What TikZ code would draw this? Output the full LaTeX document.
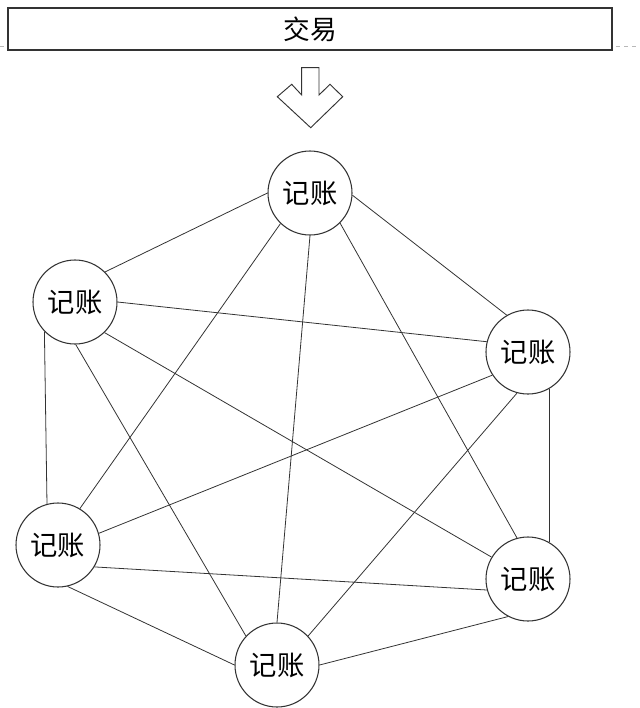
\documentclass[tikz,border=0pt]{standalone}
\usepackage{fontspec}
\newfontfamily\cjk{Noto Sans CJK SC}
\definecolor{inkgray}{rgb}{0.2,0.2,0.2}
\definecolor{guidegray}{rgb}{0.72,0.72,0.72}
\begin{document}
\begin{tikzpicture}[x=.75pt,y=-.75pt,
  ledger/.style={circle,draw=inkgray,line width=0.8pt,fill=white,minimum size=63pt,inner sep=0pt,font=\cjk\fontsize{20.5}{22}\selectfont},
  link/.style={draw=inkgray,line width=0.6pt}]
\path[use as bounding box] (0,0) rectangle (640,708);
% guide line behind the banner
\draw[guidegray,line width=0.6pt,dashed] (0,46) -- (640,46);
% banner
\node[draw=inkgray,fill=white,line width=0.8pt,minimum width=453pt,minimum height=31.5pt,inner sep=0pt,font=\cjk\fontsize{20}{22}\selectfont] (trade) at (310,29) {交易};
% hollow down arrow
\draw[inkgray,line width=0.7pt,fill=white] (301.7,67.7) -- (319,67.7) -- (319,95) -- (330,84.3) -- (342.7,96.7) -- (310.7,127.7) -- (277.3,96.7) -- (291.7,84.3) -- (301.7,95) -- cycle;
% ledger nodes
\node[ledger] (T) at (310,193) {记账};
\node[ledger] (UL) at (75,302) {记账};
\node[ledger] (R) at (528,352) {记账};
\node[ledger] (LL) at (58,545) {记账};
\node[ledger] (LR) at (528,579) {记账};
\node[ledger] (B) at (277,665) {记账};
% links between every pair
\draw[link] (T.180) -- (UL.45);
\draw[link] (T.357) -- (R.120);
\draw[link] (T.226) -- (LL.59);
\draw[link] (T.270) -- (B.90);
\draw[link] (T.315) -- (LR.105);
\draw[link] (UL.0) -- (R.166);
\draw[link] (UL.224) -- (LL.105);
\draw[link] (UL.271) -- (B.137);
\draw[link] (UL.314) -- (LR.149);
\draw[link] (R.213) -- (LL.16);
\draw[link] (R.255) -- (B.43);
\draw[link] (R.300) -- (LR.60);
\draw[link] (LL.283) -- (B.180);
\draw[link] (LL.329) -- (LR.195);
\draw[link] (B.0) -- (LR.242);
\end{tikzpicture}
\end{document}
